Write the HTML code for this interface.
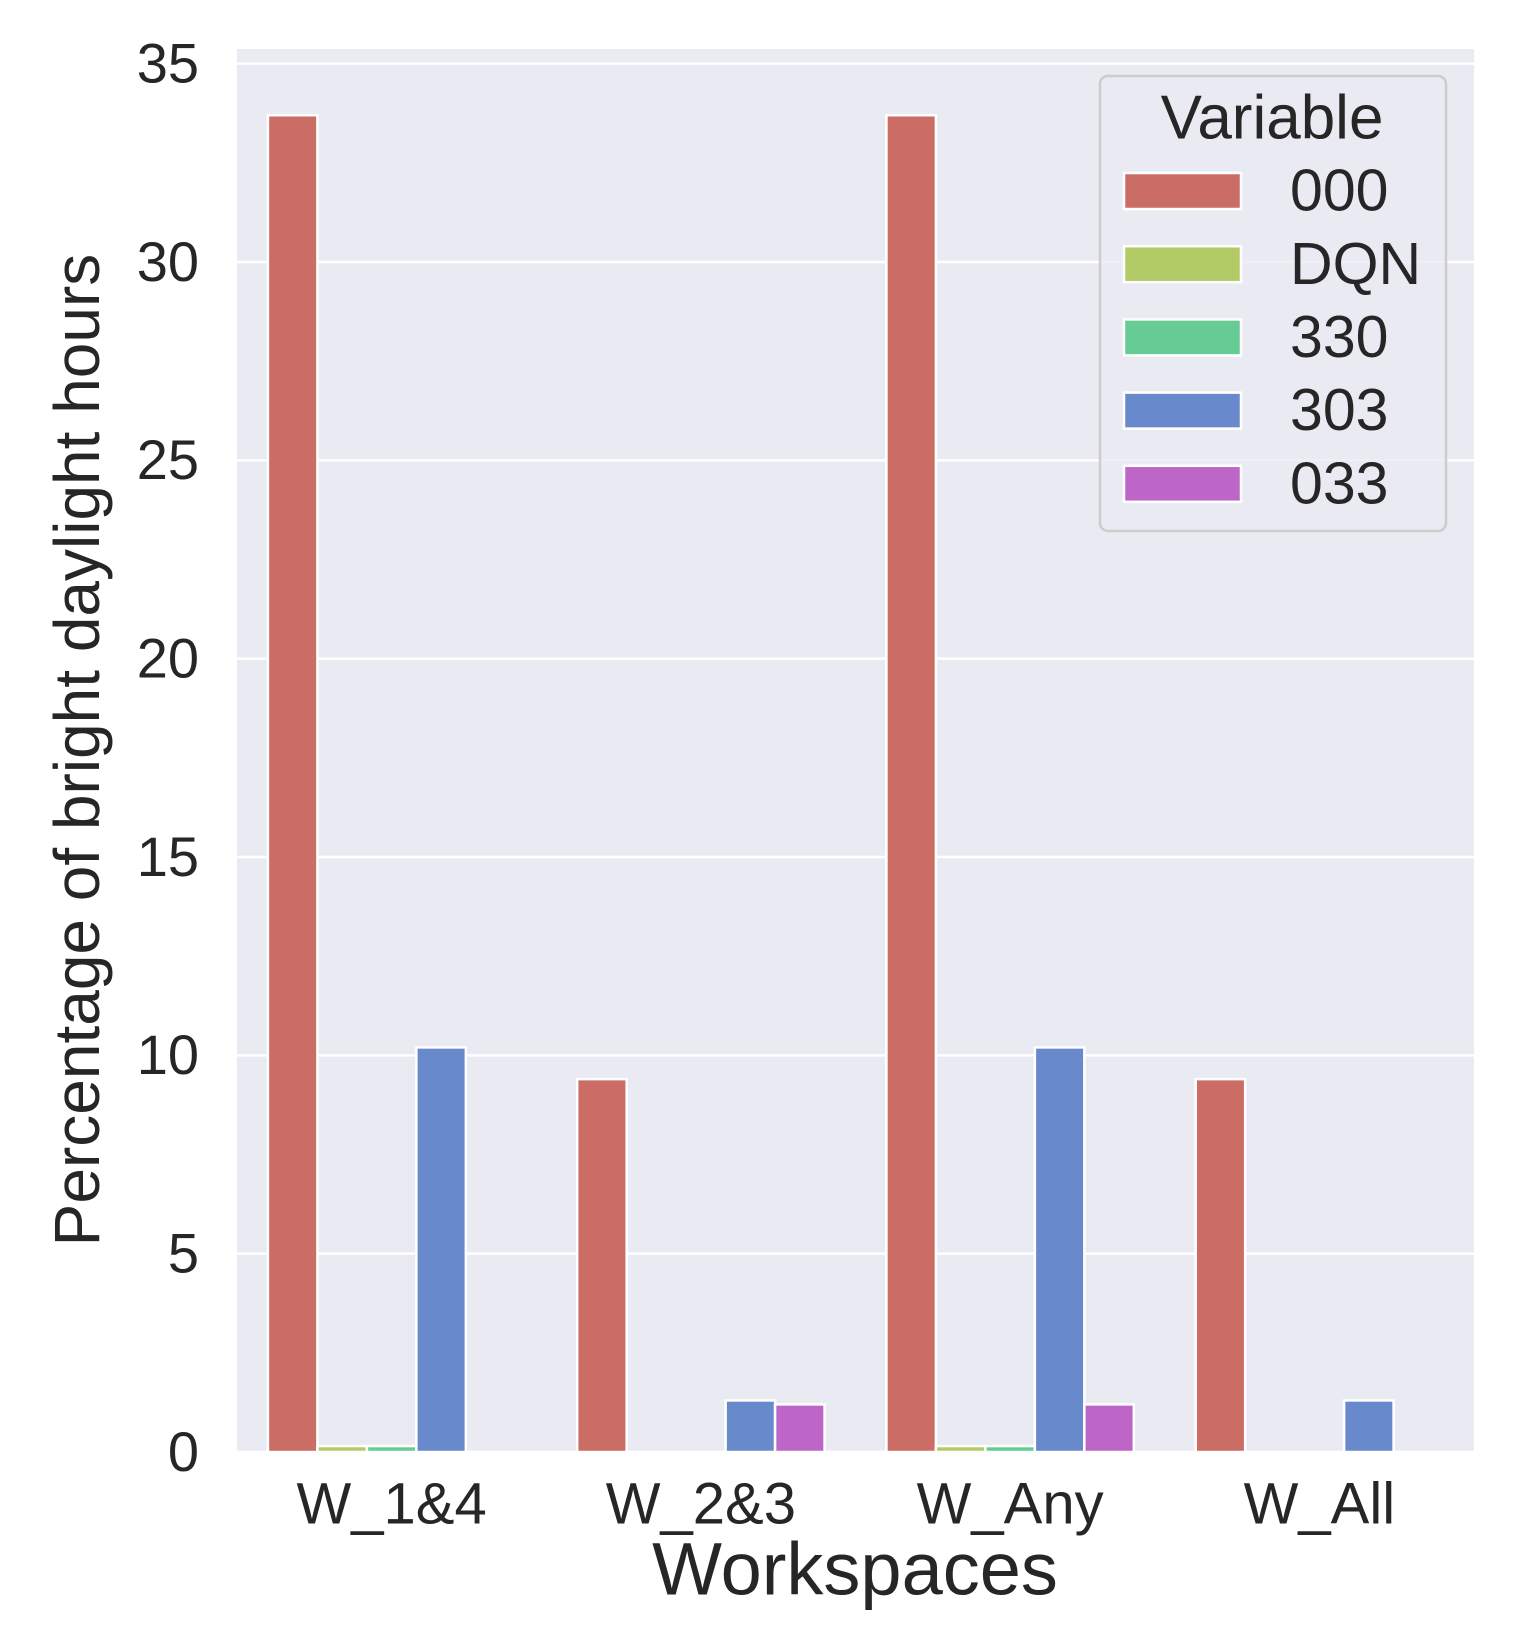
<!DOCTYPE html>
<html><head><meta charset="utf-8"><style>
body{margin:0;background:#fff;}
svg{display:block;font-family:"Liberation Sans",Arial,sans-serif;}
</style></head><body>
<svg id="chart" width="1518" height="1644" viewBox="0 0 1518 1644">
<rect x="237" y="49" width="1237" height="1403" fill="#eaeaf2"/>
<g id="grid"></g><g id="bars"></g><g id="ticks"></g>
<text x="82" y="750" font-size="64" fill="#262626" text-anchor="middle" dominant-baseline="middle" transform="rotate(-90 82 750)">Percentage of bright daylight hours</text>
<text x="855" y="1575" font-size="74" fill="#262626" text-anchor="middle" dominant-baseline="middle">Workspaces</text>
<g id="legend">
<rect x="1100" y="76" width="346" height="455" rx="8" fill="#eaeaf2" fill-opacity="0.8" stroke="#cccccc" stroke-width="2.5"/>
<text x="1272" y="122" font-size="62" fill="#262626" text-anchor="middle" dominant-baseline="middle">Variable</text>
</g>
</svg>
<script>
const categories=["W_1&4","W_2&3","W_Any","W_All"];
const seriesNames=["000","DQN","330","303","033"];
const s000=[33.7,9.4,33.7,9.4];
const sDQN=[0.15,0,0.15,0];
const s330=[0.15,0,0.15,0];
const s303=[10.2,1.3,10.2,1.3];
const s033=[0,1.2,1.2,0];
const yTicks=[0,5,10,15,20,25,30,35];
const colors=["#cb6c65","#b3cb66","#66cc94","#6889cb","#bd66c8"];
const series=[s000,sDQN,s330,s303,s033];
const NS="http://www.w3.org/2000/svg";
const L=237,R=1474,T=49,B=1452,ymax=35.37;
const y=v=>B-v/ymax*(B-T);
const bandW=(R-L)/categories.length;
const x=i=>L+bandW*(i+0.5);
function mk(tag,attrs,parent){const e=document.createElementNS(NS,tag);for(const k in attrs)e.setAttribute(k,attrs[k]);parent.appendChild(e);return e;}
const grid=document.getElementById('grid'),bars=document.getElementById('bars'),ticks=document.getElementById('ticks');
yTicks.forEach(t=>{
 const g=mk('line',{x1:L,x2:R,y1:y(t),y2:y(t),stroke:'#fff','stroke-width':2.5},grid);
 
 
 const tx=mk('text',{x:199,y:y(t)+4,'font-size':56,fill:'#262626','text-anchor':'end','dominant-baseline':'middle'},ticks);
 tx.textContent=t;
 
 
});
const groupW=bandW*0.8,bw=groupW/series.length;
categories.forEach((c,i)=>{
 series.forEach((s,j)=>{
  const v=s[i];
  if(v<=0)return;
  const bx=x(i)-groupW/2+j*bw;
  const r=mk('rect',{x:bx,y:y(v),width:bw,height:B-y(v),fill:colors[j],stroke:'#fff','stroke-width':2.5},bars);
  
  
 });
 const tx=mk('text',{x:x(i),y:1508,'font-size':58,fill:'#262626','text-anchor':'middle','dominant-baseline':'middle'},ticks);
 tx.textContent=c;
 
 
});
const lg=document.getElementById('legend');
seriesNames.forEach((n,j)=>{
 const yy=191+j*73.2;
 const r=mk('rect',{x:1124,y:yy-18,width:117,height:36,fill:colors[j],stroke:'#fff','stroke-width':2.5},lg);
 
 
 const t=mk('text',{x:1290,y:yy+4,'font-size':59,fill:'#262626','dominant-baseline':'middle'},lg);
 t.textContent=n;
 
 
});
</script>
</body></html>
